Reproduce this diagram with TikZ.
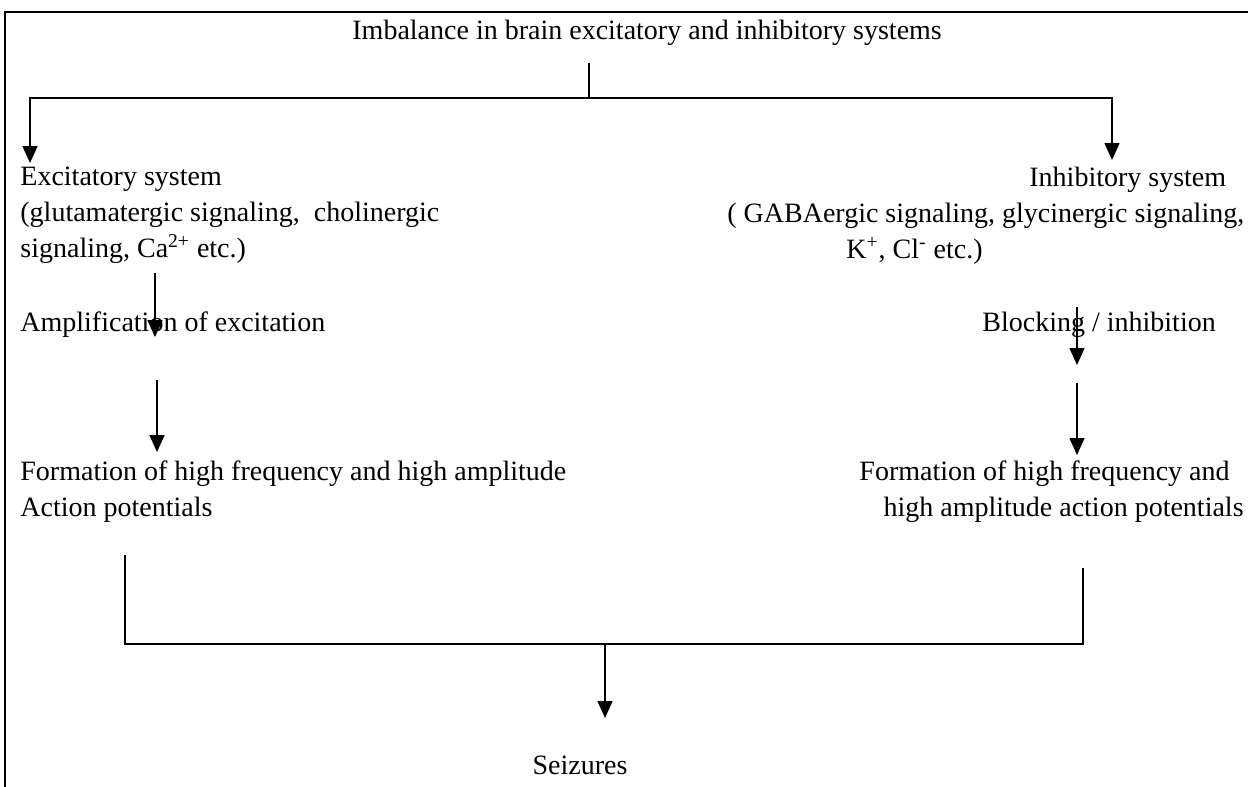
\documentclass[tikz,border=0pt]{standalone}
\usepackage{fontspec}
\setmainfont{Liberation Serif}
\usetikzlibrary{arrows.meta}

\begin{document}
\begin{tikzpicture}[x=0.5pt, y=-0.5pt,
    lbl/.style={inner sep=0pt, font=\fontsize{14}{18}\selectfont},
    arr/.style={-{Triangle[length=8.5pt,width=7.5pt]}, line width=0.75pt},
    link/.style={line width=0.75pt}]
    \useasboundingbox (0,0) rectangle (1248,787);

    % Frame, open at right and bottom
    \draw[line width=1pt] (5,787) -- (5,12) -- (1248,12);

    % Texts
    \node[lbl, anchor=west] (imbal) at (352,33) {Imbalance in brain excitatory and inhibitory systems};
    \node[lbl, anchor=north west, align=left] (excit) at (20,167) {Excitatory system\\
        (glutamatergic signaling,\ \ cholinergic\\
        signaling, Ca\textsuperscript{2+} etc.)};
    \node[lbl, anchor=north west, align=left] (inhib) at (727,167) {\hspace*{151pt}Inhibitory system\\
        ( GABAergic signaling, glycinergic signaling,\\
        \hspace*{59.5pt}K\textsuperscript{+}, Cl\textsuperscript{-} etc.)};
    \node[lbl, anchor=west] (ampl) at (20,325) {Amplification of excitation};
    \node[lbl, anchor=west] (block) at (982,325) {Blocking / inhibition};
    \node[lbl, anchor=north west, align=left] (formL) at (20,460) {Formation of high frequency and high amplitude\\
        Action potentials};
    \node[lbl, anchor=north east, align=right] (formR) at (1244,460) {Formation of high frequency and\hspace*{7pt}\\
        high amplitude action potentials};
    \node[lbl] (seiz) at (580,765) {Seizures};

    % Split from the top
    \coordinate (top) at (589,63);
    \coordinate (split) at (589,98);
    \coordinate (exTip) at (30,163);
    \coordinate (inTip) at (1112,160);
    \draw[link] (top) -- (split);
    \draw[arr] (split) -| (exTip);
    \draw[arr] (split) -| (inTip);

    % Excitatory branch
    \coordinate (ex1) at (155,273);
    \coordinate (ex2) at (155,337);
    \coordinate (ex3) at (157,380);
    \coordinate (ex4) at (157,452);
    \draw[arr] (ex1) -- (ex2);
    \draw[arr] (ex3) -- (ex4);

    % Inhibitory branch
    \coordinate (in1) at (1077,307);
    \coordinate (in2) at (1077,365);
    \coordinate (in3) at (1077,383);
    \coordinate (in4) at (1077,455);
    \draw[arr] (in1) -- (in2);
    \draw[arr] (in3) -- (in4);

    % Join to seizures
    \coordinate (joinL) at (125,555);
    \coordinate (joinR) at (1083,568);
    \coordinate (join) at (605,644);
    \coordinate (seTip) at (605,718);
    \draw[link] (joinL) |- (join) -| (joinR);
    \draw[arr] (join) -- (seTip);
\end{tikzpicture}
\end{document}
